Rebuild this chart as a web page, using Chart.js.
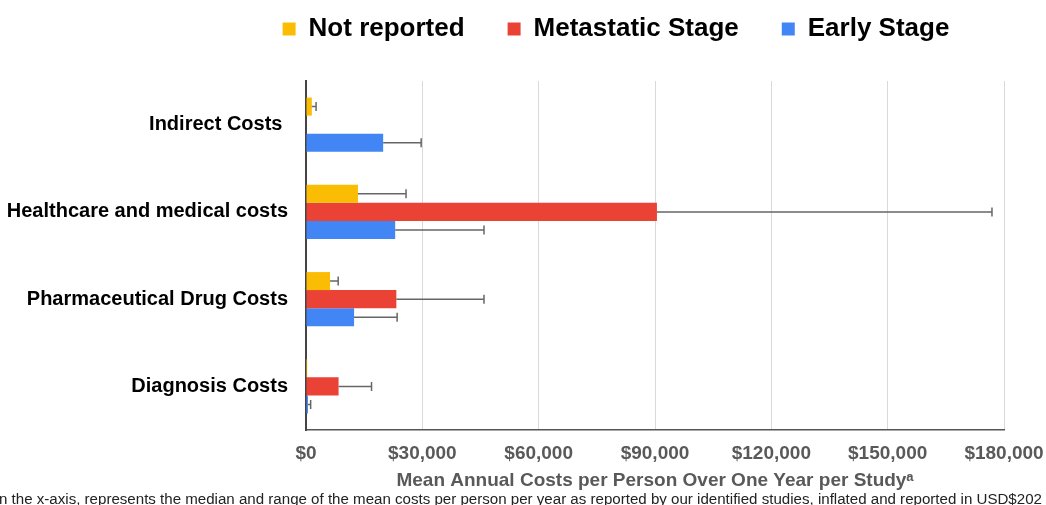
<!DOCTYPE html>
<html>
<head>
<meta charset="utf-8">
<script src="https://cdn.jsdelivr.net/npm/chart.js@4.4.1/dist/chart.umd.min.js"></script>
<style>
  body { margin: 0; background: #fff; }
  #wrap { width: 1046px; height: 505px; }
</style>
</head>
<body>
<div id="wrap"><canvas id="costChart" width="1046" height="505"></canvas></div>
<script>
// categories and series (USD per person per year)
var categories = ['Indirect Costs ', 'Healthcare and medical costs', 'Pharmaceutical Drug Costs', 'Diagnosis Costs'];
var seriesNames = ['Not reported', 'Metastatic Stage', 'Early Stage'];
var notReported = [1500, 13400, 6200, 300];
var notReportedHigh = [2600, 25800, 8300, null];
var metastatic = [null, 90500, 23300, 8400];
var metastaticHigh = [null, 176900, 45900, 16900];
var early = [19900, 23000, 12400, 500];
var earlyHigh = [29700, 45900, 23500, 1200];
var xTicks = [0, 30000, 60000, 90000, 120000, 150000, 180000];

var footnote = 'n the x-axis, represents the median and range of the mean costs per person per year as reported by our identified studies, inflated and reported in USD$202';

var FONT = "'Liberation Sans', Arial, sans-serif";

// error bars: line from bar end to the upper range, with a cap
var errorBars = {
  id: 'errorBars',
  afterDatasetsDraw: function(chart) {
    var ctx = chart.ctx;
    var xs = chart.scales.x;
    ctx.save();
    ctx.strokeStyle = '#666666';
    ctx.lineWidth = 1.5;
    chart.data.datasets.forEach(function(ds, i) {
      var meta = chart.getDatasetMeta(i);
      meta.data.forEach(function(bar, j) {
        var hi = ds.high[j];
        if (hi == null || ds.data[j] == null) return;
        var x0 = xs.getPixelForValue(ds.data[j]);
        var x1 = xs.getPixelForValue(hi);
        ctx.beginPath();
        ctx.moveTo(x0, bar.y);
        ctx.lineTo(x1, bar.y);
        ctx.moveTo(x1, bar.y - 4.5);
        ctx.lineTo(x1, bar.y + 4.5);
        ctx.stroke();
      });
    });
    ctx.restore();
  }
};

// legend needs wide gaps between items but a short box, and sits right of centre
var legendFix = {
  id: 'legendFix',
  afterInit: function(chart) {
    var leg = chart.legend;
    var fit = leg.fit;
    leg.fit = function() {
      fit.call(this);
      this.height = 81;
    };
    var draw = leg.draw;
    leg.draw = function() {
      this.ctx.save();
      this.ctx.translate(93, -27);
      draw.apply(this, arguments);
      this.ctx.restore();
    };
  },
  afterDraw: function(chart) {
    var ctx = chart.ctx;
    ctx.save();
    ctx.font = '15.1px ' + FONT;
    ctx.fillStyle = '#222222';
    ctx.textBaseline = 'alphabetic';
    ctx.textAlign = 'left';
    ctx.fillText(footnote, -1, 504);
    ctx.restore();
  }
};

var colors = ['#FBBC04', '#EA4335', '#4285F4'];
var values = [notReported, metastatic, early];
var highs = [notReportedHigh, metastaticHigh, earlyHigh];

var datasets = seriesNames.map(function(name, i) {
  return {
    label: name,
    data: values[i],
    high: highs[i],
    backgroundColor: colors[i],
    borderWidth: 0,
    categoryPercentage: 0.62,
    barPercentage: 1.0
  };
});

new Chart(document.getElementById('costChart'), {
  type: 'bar',
  data: { labels: categories, datasets: datasets },
  plugins: [errorBars, legendFix],
  options: {
    indexAxis: 'y',
    responsive: false,
    animation: false,
    layout: { padding: 0 },
    plugins: {
      tooltip: { enabled: false },
      legend: {
        position: 'top',
        labels: {
          boxWidth: 13,
          boxHeight: 13,
          padding: 43,
          color: '#000000',
          font: { family: FONT, size: 26, weight: 'bold' }
        }
      }
    },
    scales: {
      x: {
        min: 0,
        max: 180000,
        afterBuildTicks: function(scale) {
          scale.ticks = xTicks.map(function(v) { return { value: v }; });
        },
        afterFit: function(scale) {
          scale.height = 75;
          scale.paddingRight = 42;
          scale.paddingLeft = 0;
        },
        grid: {
          drawTicks: false,
          color: function(c) { return c.index === 0 ? 'rgba(0,0,0,0)' : '#d9d9d9'; },
          lineWidth: 1
        },
        border: { display: true, color: '#555555', width: 1.5 },
        ticks: {
          padding: 12,
          color: '#595959',
          font: { family: FONT, size: 19, weight: 'bold' },
          callback: function(v) { return '$' + Number(v).toLocaleString('en-US'); }
        },
        title: {
          display: true,
          text: 'Mean Annual Costs per Person Over One Year per Study\u1d43',
          color: '#595959',
          font: { family: FONT, size: 19, weight: 'bold' },
          padding: { top: 0, bottom: 13 }
        }
      },
      y: {
        afterFit: function(scale) { scale.width = 306; },
        grid: { display: false, drawTicks: false },
        border: { display: true, color: '#444444', width: 2 },
        ticks: {
          padding: 18,
          color: '#000000',
          font: { family: FONT, size: 20, weight: 'bold' }
        }
      }
    }
  }
});
</script>
</body>
</html>
